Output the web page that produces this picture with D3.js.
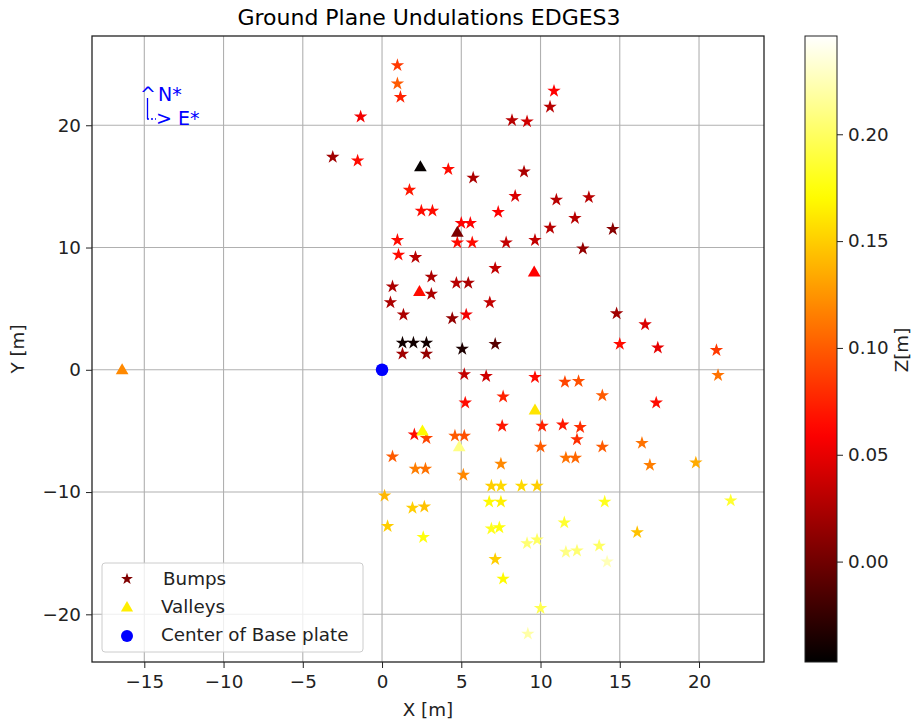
<!DOCTYPE html>
<html>
<head>
<meta charset="utf-8">
<script src="https://cdn.jsdelivr.net/npm/d3@7"></script>
<style>
  body { margin: 0; background: #fff; }
  svg { display: block; font-family: "DejaVu Sans", sans-serif; }
</style>
</head>
<body>
<svg id="chart" width="916" height="721"></svg>
<script>
// ---------------- data ----------------
const bumpX = [0.97,0.97,1.16,-1.35,-3.11,-1.54,4.18,5.75,1.73,2.48,3.18,7.33,5.0,5.57,4.75,5.69,7.83,0.97,1.04,2.11,7.14,3.11,0.66,4.69,5.44,3.11,0.53,6.8,1.35,4.43,5.31,1.29,1.98,2.8,1.29,2.8,5.06,7.14,
  10.85,10.6,8.2,9.15,8.96,8.4,11.0,13.05,12.17,10.6,14.56,9.65,12.67,14.8,16.6,15.0,17.4,21.1,21.2,
  5.19,6.57,9.65,11.54,12.4,5.25,7.64,13.9,17.3,2.04,2.8,4.6,5.19,7.58,10.1,11.4,12.5,12.3,10.0,13.9,16.4,0.66,7.5,2.1,2.74,11.6,12.2,5.13,16.9,19.8,
  6.9,7.5,8.8,9.78,0.16,1.92,2.67,6.76,7.5,14.05,22.0,0.35,2.6,6.9,7.4,11.5,16.1,9.15,9.78,11.6,12.3,13.7,14.2,7.14,7.64,10.0,9.2];
const bumpY = [24.9,23.4,22.3,20.7,17.4,17.1,16.4,15.7,14.7,13.0,13.0,12.9,12.0,12.0,10.4,10.4,10.4,10.6,9.4,9.2,8.3,7.6,6.8,7.1,7.1,6.2,5.5,5.5,4.5,4.2,4.5,2.2,2.2,2.2,1.3,1.3,1.7,2.1,
  22.8,21.5,20.4,20.3,16.2,14.2,13.9,14.1,12.4,11.6,11.5,10.6,9.9,4.6,3.7,2.1,1.8,1.6,-0.45,
  -0.37,-0.53,-0.61,-1.0,-0.94,-2.7,-2.2,-2.1,-2.7,-5.3,-5.6,-5.4,-5.4,-4.6,-4.6,-4.5,-4.7,-5.7,-6.3,-6.3,-6.0,-7.1,-7.7,-8.1,-8.1,-7.2,-7.2,-8.6,-7.8,-7.6,
  -9.5,-9.5,-9.5,-9.5,-10.3,-11.3,-11.2,-10.8,-10.8,-10.8,-10.7,-12.8,-13.7,-13.0,-12.9,-12.5,-13.3,-14.2,-13.9,-14.9,-14.8,-14.4,-15.7,-15.5,-17.1,-19.5,-21.6];
const bumpZ = [0.085,0.10,0.075,0.055,0.02,0.065,0.065,0.025,0.07,0.065,0.065,0.06,0.06,0.06,0.065,0.065,0.035,0.065,0.065,0.03,0.035,0.025,0.025,0.03,0.025,0.025,0.025,0.035,0.025,0.015,0.055,-0.04,-0.04,-0.04,0.02,0.015,-0.035,-0.01,
  0.06,0.03,0.03,0.04,0.025,0.045,0.03,0.03,0.03,0.03,0.01,0.035,0.015,0.02,0.045,0.065,0.05,0.085,0.11,
  0.035,0.04,0.065,0.09,0.095,0.065,0.075,0.10,0.065,0.065,0.09,0.10,0.095,0.07,0.075,0.07,0.08,0.08,0.10,0.10,0.11,0.10,0.12,0.115,0.11,0.11,0.105,0.12,0.115,0.135,
  0.15,0.155,0.155,0.15,0.14,0.15,0.145,0.17,0.165,0.18,0.185,0.15,0.175,0.18,0.175,0.185,0.145,0.205,0.20,0.21,0.205,0.20,0.225,0.15,0.17,0.195,0.22];

const valleyX = [-16.4,2.42,4.75,9.6,2.36,9.65,2.55,4.87];
const valleyY = [0.0,16.6,11.25,8.0,6.4,-3.3,-5.0,-6.3];
const valleyZ = [0.12,-0.045,0.005,0.06,0.065,0.16,0.17,0.21];

const centerX = [0];
const centerY = [0];

const xTicks = [-15,-10,-5,0,5,10,15,20];
const yTicks = [-20,-10,0,10,20];
const cTicks = [0.00,0.05,0.10,0.15,0.20];
const legendLabels = ["Bumps","Valleys","Center of Base plate"];

// ---------------- layout ----------------
const svg = d3.select("#chart");
const L = 92, R = 764, T = 36, B = 662;
const FS = 18.3;
const x = d3.scaleLinear().domain([-18.3, 24.1]).range([L, R]);
const y = d3.scaleLinear().domain([-23.9, 27.3]).range([B, T]);
const zMin = -0.047, zMax = 0.246;
const cbar = d3.scaleLinear().domain([zMin, zMax]).range([B, T]);

// matplotlib "hot" colormap
function hot(t) {
  t = Math.max(0, Math.min(1, t));
  const r = Math.min(1, t / 0.365079);
  const g = Math.max(0, Math.min(1, (t - 0.365079) / (0.746032 - 0.365079)));
  const b = Math.max(0, Math.min(1, (t - 0.746032) / (1 - 0.746032)));
  return d3.rgb(r * 255, g * 255, b * 255).toString();
}
const zColor = z => hot((z - zMin) / (zMax - zMin));

// title
svg.append("text").attr("x", 429).attr("y", 25).attr("text-anchor", "middle")
  .attr("font-size", 22).attr("fill", "#000").text("Ground Plane Undulations EDGES3");

// grid
const g = svg.append("g");
g.selectAll(".gx").data(xTicks).join("line")
  .attr("x1", d => x(d)).attr("x2", d => x(d)).attr("y1", T).attr("y2", B)
  .attr("stroke", "#b0b0b0").attr("stroke-width", 1.1);
g.selectAll(".gy").data(yTicks).join("line")
  .attr("x1", L).attr("x2", R).attr("y1", d => y(d)).attr("y2", d => y(d))
  .attr("stroke", "#b0b0b0").attr("stroke-width", 1.1);

// axes
const xAxis = d3.axisBottom(x).tickValues(xTicks).tickSize(6).tickPadding(4).tickFormat(d3.format("d"));
const yAxis = d3.axisLeft(y).tickValues(yTicks).tickSize(6).tickPadding(5).tickFormat(d3.format("d"));
const gx = svg.append("g").attr("transform", `translate(0,${B})`).call(xAxis);
const gy = svg.append("g").attr("transform", `translate(${L},0)`).call(yAxis);
[gx, gy].forEach(a => {
  a.select(".domain").remove();
  a.selectAll("text").attr("font-size", FS).attr("fill", "#222").attr("font-family", "DejaVu Sans");
  a.selectAll("line").attr("stroke", "#222");
});
gx.selectAll("text").attr("dy", "0.85em");

svg.append("text").attr("x", 428).attr("y", 716).attr("text-anchor", "middle")
  .attr("font-size", FS).attr("fill", "#222").text("X [m]");
svg.append("text").attr("transform", "translate(24,349) rotate(-90)").attr("text-anchor", "middle")
  .attr("font-size", FS).attr("fill", "#222").text("Y [m]");

// points
const plot = svg.append("g");
const bumps = bumpX.map((d, i) => ({ x: d, y: bumpY[i], z: bumpZ[i] }));
const valleys = valleyX.map((d, i) => ({ x: d, y: valleyY[i], z: valleyZ[i] }));
const starPath = d3.symbol().type(d3.symbolStar).size(56)();
const triPath = d3.symbol().type(d3.symbolTriangle).size(70)();

plot.selectAll(".bump").data(bumps).join("path")
  .attr("d", starPath)
  .attr("transform", d => `translate(${x(d.x)},${y(d.y)})`)
  .attr("fill", d => zColor(d.z));
plot.selectAll(".valley").data(valleys).join("path")
  .attr("d", triPath)
  .attr("transform", d => `translate(${x(d.x)},${y(d.y) + 0.8})`)
  .attr("fill", d => zColor(d.z));
plot.selectAll(".center").data(centerX.map((d, i) => ({ x: d, y: centerY[i] }))).join("circle")
  .attr("cx", d => x(d.x)).attr("cy", d => y(d.y)).attr("r", 6.3)
  .attr("fill", "#0000ff");

// frame
svg.append("rect").attr("x", L).attr("y", T).attr("width", R - L).attr("height", B - T)
  .attr("fill", "none").attr("stroke", "#222").attr("stroke-width", 1.3);

// N/E annotation
const ann = svg.append("g").attr("fill", "#0000ff").attr("font-size", 19);
ann.append("text").attr("x", 140).attr("y", 101).text("^");
ann.append("text").attr("x", 158).attr("y", 101).text("N*");
ann.append("line").attr("x1", 147.5).attr("x2", 147.5).attr("y1", 98).attr("y2", 119)
  .attr("stroke", "#0000ff").attr("stroke-width", 1.3);
ann.append("line").attr("x1", 147).attr("x2", 156).attr("y1", 119).attr("y2", 119)
  .attr("stroke", "#0000ff").attr("stroke-width", 1.3).attr("stroke-dasharray", "2,2");
ann.append("text").attr("x", 156).attr("y", 125).text("> E*");

// legend
const lg = svg.append("g");
lg.append("rect").attr("x", 102).attr("y", 563).attr("width", 261).attr("height", 89)
  .attr("rx", 3).attr("fill", "#fff").attr("fill-opacity", 0.8)
  .attr("stroke", "#cccccc").attr("stroke-width", 1);
const lgY = [579, 607, 635];
const lgColors = ["#800000", "#ffee00", "#0000ff"];
lg.append("path").attr("d", d3.symbol().type(d3.symbolStar).size(44)())
  .attr("transform", `translate(127,${lgY[0]})`).attr("fill", lgColors[0]);
lg.append("path").attr("d", d3.symbol().type(d3.symbolTriangle).size(64)())
  .attr("transform", `translate(127,${lgY[1] + 1})`).attr("fill", lgColors[1]);
lg.append("circle").attr("cx", 127).attr("cy", lgY[2] + 1).attr("r", 6).attr("fill", lgColors[2]);
lg.selectAll(".lt").data(legendLabels).join("text")
  .attr("x", (d, i) => i === 0 ? 163 : 161).attr("y", (d, i) => lgY[i] + 6)
  .attr("font-size", FS).attr("fill", "#222").text(d => d);

// colorbar
const CB_L = 805, CB_W = 32;
const defs = svg.append("defs");
const grad = defs.append("linearGradient").attr("id", "hotgrad")
  .attr("x1", 0).attr("y1", 1).attr("x2", 0).attr("y2", 0);
d3.range(0, 1.0001, 0.02).forEach(t => {
  grad.append("stop").attr("offset", t).attr("stop-color", hot(t));
});
svg.append("rect").attr("x", CB_L).attr("y", T).attr("width", CB_W).attr("height", B - T)
  .attr("fill", "url(#hotgrad)").attr("stroke", "#222").attr("stroke-width", 1);
const cAxis = d3.axisRight(cbar).tickValues(cTicks).tickSize(6).tickPadding(5).tickFormat(d3.format(".2f"));
const gc = svg.append("g").attr("transform", `translate(${CB_L + CB_W},0)`).call(cAxis);
gc.select(".domain").remove();
gc.selectAll("text").attr("font-size", FS).attr("fill", "#222").attr("font-family", "DejaVu Sans");
gc.selectAll("line").attr("stroke", "#222");
svg.append("text").attr("transform", "translate(908,350) rotate(-90)").attr("text-anchor", "middle")
  .attr("font-size", FS).attr("fill", "#222").text("Z[m]");
</script>
</body>
</html>
